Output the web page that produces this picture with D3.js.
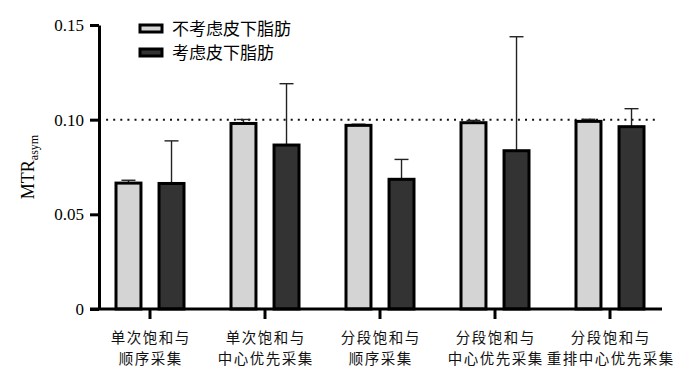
<!DOCTYPE html>
<html>
<head>
<meta charset="utf-8">
<script src="https://cdn.jsdelivr.net/npm/d3@7"></script>
<style>
  body { margin: 0; background: #fff; }
  svg { display: block; }
</style>
</head>
<body>
<svg id="drawing_region"></svg>
<script>
// categories (two-line labels)
const categories = ["单次饱和与\n顺序采集", "单次饱和与\n中心优先采集", "分段饱和与\n顺序采集", "分段饱和与\n中心优先采集", "分段饱和与\n重排中心优先采集"];
const seriesNames = ["不考虑皮下脂肪", "考虑皮下脂肪"];
// bar means
const meanNoFat = [0.0665, 0.0980, 0.0970, 0.0984, 0.0991];
const meanFat   = [0.0663, 0.0866, 0.0685, 0.0836, 0.0963];
// upper ends of the error bars
const errNoFat  = [0.0680, 0.1001, 0.0976, 0.0996, 0.1002];
const errFat    = [0.0888, 0.1190, 0.0790, 0.1438, 0.1058];
const yTicks = [0, 0.05, 0.10, 0.15];
const yTickLabels = ["0", "0.05", "0.10", "0.15"];
const refLine = 0.10;

const fills = ["#d4d4d4", "#333333"];

const config = {
    width: 700,
    height: 391,
    left: 99, top: 25, bottom: 309, right: 662
};

const svg = d3.select('#drawing_region')
    .attr('width', config.width)
    .attr('height', config.height);

const yscale = d3.scaleLinear()
    .domain([0, 0.15])
    .range([config.bottom, config.top]);

const xscale = d3.scaleBand()
    .domain(categories)
    .range([92.5, 667.5])
    .padding(0);

const xsub = d3.scaleBand()
    .domain(seriesNames)
    .range([-34, 34])
    .paddingInner(0.42);

// data table built from the arrays
const table = categories.map((c, i) => ({
    cat: c,
    values: [
        {s: seriesNames[0], m: meanNoFat[i], e: errNoFat[i], f: fills[0]},
        {s: seriesNames[1], m: meanFat[i], e: errFat[i], f: fills[1]}
    ]
}));

const chart = svg.append('g');

// reference dotted line
chart.append('line')
    .attr('x1', config.left)
    .attr('x2', 657)
    .attr('y1', yscale(refLine))
    .attr('y2', yscale(refLine))
    .attr('stroke', '#111')
    .attr('stroke-width', 2)
    .attr('stroke-dasharray', '2,5.1');

const groups = chart.selectAll('.grp')
    .data(table)
    .join('g')
    .attr('class', 'grp')
    .attr('transform', d => `translate(${xscale(d.cat) + xscale.bandwidth() / 2},0)`);

// error bars (upper only)
groups.selectAll('.err')
    .data(d => d.values)
    .join('g')
    .attr('class', 'err')
    .each(function(d) {
        const g = d3.select(this);
        const cx = xsub(d.s) + xsub.bandwidth() / 2;
        g.append('line')
            .attr('x1', cx).attr('x2', cx)
            .attr('y1', yscale(d.m)).attr('y2', yscale(d.e))
            .attr('stroke', '#222').attr('stroke-width', 1.4);
        g.append('line')
            .attr('x1', cx - 7).attr('x2', cx + 7)
            .attr('y1', yscale(d.e)).attr('y2', yscale(d.e))
            .attr('stroke', '#222').attr('stroke-width', 1.4);
    });

// bars
groups.selectAll('rect')
    .data(d => d.values)
    .join('rect')
    .attr('x', d => xsub(d.s))
    .attr('width', xsub.bandwidth())
    .attr('y', d => yscale(d.m))
    .attr('height', d => yscale(0) - yscale(d.m))
    .attr('fill', d => d.f)
    .attr('stroke', '#000')
    .attr('stroke-width', 3);

// y axis
const yaxis = d3.axisLeft(yscale)
    .tickValues(yTicks)
    .tickFormat((d, i) => yTickLabels[i])
    .tickSize(9)
    .tickSizeOuter(0)
    .tickPadding(6);

const yaxis_group = svg.append('g')
    .attr('transform', `translate(${config.left},0)`)
    .call(yaxis);
yaxis_group.select('.domain').attr('stroke-width', 3);
yaxis_group.selectAll('.tick line').attr('stroke-width', 3);
yaxis_group.selectAll('.tick text')
    .attr('font-family', '"Liberation Serif", serif')
    .attr('font-size', 17)
    .attr('fill', '#000');

// x axis
const xaxis = d3.axisBottom(xscale)
    .tickSize(10)
    .tickSizeOuter(0)
    .tickFormat('');

const xaxis_group = svg.append('g')
    .attr('transform', `translate(0,${config.bottom})`)
    .call(xaxis);
xaxis_group.select('.domain').remove();
xaxis_group.append('line')
    .attr('x1', config.left - 9).attr('x2', config.right)
    .attr('y1', 0).attr('y2', 0)
    .attr('stroke', '#000').attr('stroke-width', 3);
xaxis_group.selectAll('.tick line').attr('stroke-width', 3);

// two lines per label, each its own text
xaxis_group.selectAll('.tick')
    .each(function(d) {
        const t = d3.select(this);
        d.split('\n').forEach((line, i) => {
            t.append('text')
                .attr('fill', '#111')
                .attr('font-family', '"Noto Sans CJK SC", sans-serif')
                .attr('font-size', 14.5)
                .attr('letter-spacing', 1.5)
                .attr('text-anchor', 'middle')
                .attr('x', 0.75)
                .attr('y', 33.5 + i * 21)
                .text(line);
        });
    });

// y label
const ylab = svg.append('text')
    .attr('transform', `translate(34,${(config.top + config.bottom) / 2}) rotate(-90)`)
    .attr('text-anchor', 'middle')
    .attr('font-family', '"Liberation Serif", serif')
    .attr('font-size', 18)
    .attr('fill', '#000');
ylab.append('tspan').text('MTR');
ylab.append('tspan').attr('font-size', 12).attr('dy', 4).text('asym');

// legend
const legend = svg.append('g')
    .attr('transform', 'translate(139,24)');
const li = legend.selectAll('g')
    .data(seriesNames)
    .join('g')
    .attr('transform', (d, i) => `translate(0,${i * 24})`);
li.append('rect')
    .attr('x', 1).attr('y', 1)
    .attr('width', 22).attr('height', 7)
    .attr('fill', (d, i) => fills[i])
    .attr('stroke', '#000')
    .attr('stroke-width', 3);
li.append('text')
    .attr('x', 33)
    .attr('y', 5)
    .attr('dy', '0.35em')
    .attr('font-family', '"Noto Sans CJK SC", sans-serif')
    .attr('font-size', 17)
    .attr('fill', '#000')
    .text(d => d);
</script>
</body>
</html>
